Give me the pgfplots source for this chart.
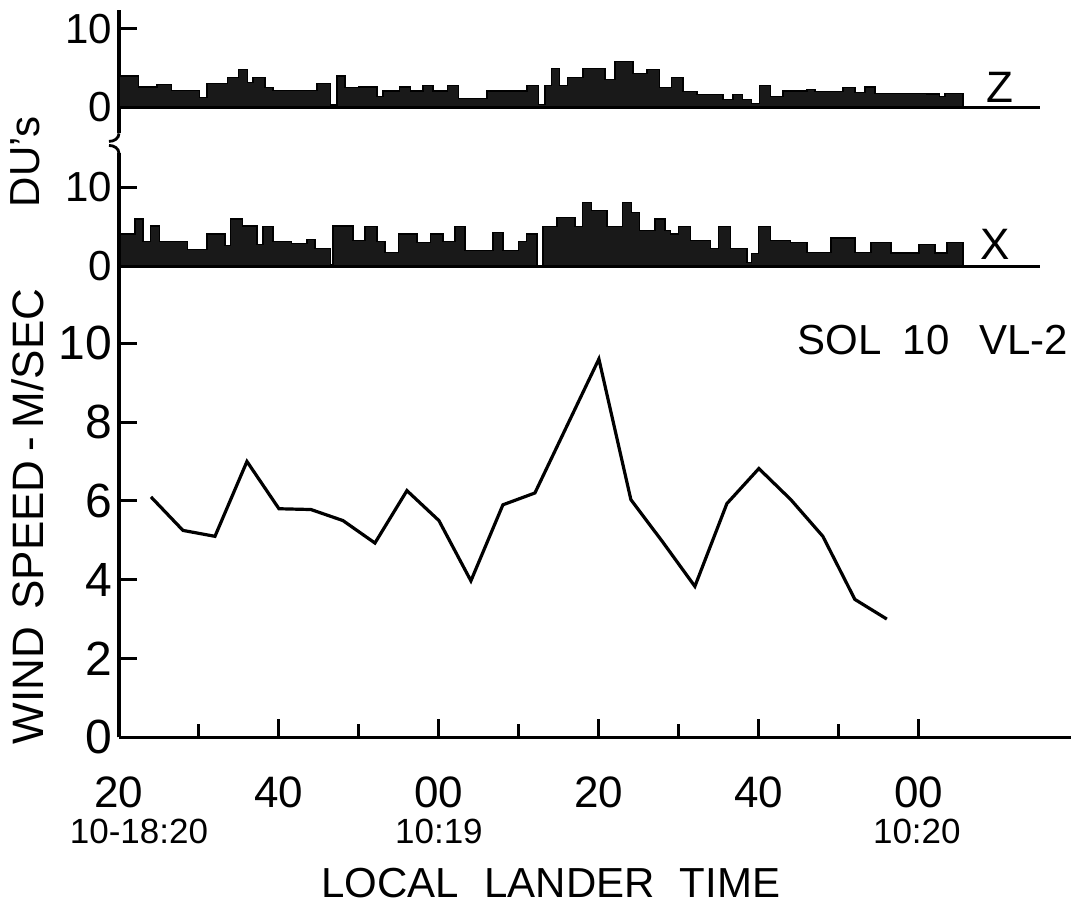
\documentclass[border=0pt]{standalone}
\usepackage{fontspec}
\setmainfont{Liberation Sans}
\usepackage{pgfplots}
\pgfplotsset{compat=1.18}

% 1 px of the reference = 0.5pt
\pgfplotsset{
  every axis/.append style={
    scale only axis, clip=false,
    axis line style={line width=1.6pt},
    every tick/.style={black, line width=1.5pt},
    tick align=inside,
    major tick length=9pt,
    minor tick length=6.5pt,
    /pgf/number format/assume math mode=true,
  },
  bars/.style={const plot, fill=black!90, draw=black, line width=0.6pt},
}

\begin{document}
\begin{tikzpicture}

% ---- wind speed panel
\begin{axis}[
  at={(0,0)}, anchor=south west,
  width=476pt, height=235.5pt,
  xmin=0, xmax=119, ymin=0, ymax=11.95,
  axis x line*=bottom, axis y line*=left,
  xtick={0,20,40,60,80,100}, xticklabels={20,40,00,20,40,00},
  minor xtick={10,30,50,70,90},
  ytick={0,2,4,6,8,10}, yticklabels={0,2,4,6,8,10},
  xticklabel style={font=\fontsize{22}{22}\selectfont, yshift=-16pt},
  yticklabel style={font=\fontsize{24}{24}\selectfont},
]
\addplot[black, line width=1.6pt] coordinates {
  (4,6.1)(8,5.25)(12,5.1)(16,7.0)(20,5.8)(24,5.78)(28,5.5)(32,4.93)
  (36,6.26)(40,5.5)(44,3.97)(48,5.9)(52,6.2)(60,9.6)(64,6.03)(68,4.95)
  (72,3.83)(76,5.93)(80,6.82)(84,6.03)(88,5.1)(92,3.5)(96,3.0)};

\node[anchor=east, font=\fontsize{21}{21}\selectfont] at (axis cs:119.5,10.08)
  {SOL\hspace{0.5em}10\hspace{0.7em}VL-2};
\node[font=\fontsize{22}{22}\selectfont] at (axis cs:110.1,16.5) {Z};
\node[font=\fontsize{22}{22}\selectfont] at (axis cs:109.5,12.5) {X};

\node[rotate=90, font=\fontsize{22}{22}\selectfont] at (axis cs:-11.4,5.6)
  {WIND\hspace{0.4em}SPEED\hspace{0.2em}-\hspace{0.2em}M/SEC};
\node[rotate=90, font=\fontsize{21}{21}\selectfont] at (axis cs:-11.75,14.6) {DU's};

\node[font=\fontsize{17.5}{17.5}\selectfont] at (axis cs:2.5,-2.4) {10-18:20};
\node[font=\fontsize{17.5}{17.5}\selectfont] at (axis cs:40,-2.4) {10:19};
\node[font=\fontsize{17.5}{17.5}\selectfont] at (axis cs:99.75,-2.4) {10:20};
\node[font=\fontsize{21}{21}\selectfont] at (axis cs:54,-3.7)
  {LOCAL\hspace{0.6em}LANDER\hspace{0.6em}TIME};

% page frame, same margins as the reference
\path (axis cs:-14.875,-4.37) rectangle (axis cs:120.9,18.71);
\end{axis}

% ---- X panel
\begin{axis}[
  at={(0,235.5pt)}, anchor=south west,
  width=460.5pt, height=56.5pt,
  xmin=0, xmax=115.1, ymin=0, ymax=14.3,
  axis x line*=bottom, axis y line*=left,
  xtick=\empty, ytick={0,10}, yticklabels={0,10},
  yticklabel style={font=\fontsize{21}{21}\selectfont},
  axis on top,
]
\addplot[bars] coordinates {
  (0,4.1)(2,6.0)(3,3.1)(3.9,5.1)(5.1,3.1)(8.6,2.1)(11,4.1)(13.25,2.6)
  (13.9,6.0)(15.4,5.1)(17.25,2.8)(18,5.0)(19.25,3.1)(21.6,2.9)(23.5,3.4)
  (24.5,2.3)(26.4,0.2)(26.75,5.1)(29.25,3.3)(30.75,5.0)(32.25,3.1)
  (33.25,1.8)(34.9,4.1)(37.25,3.0)(38.9,4.1)(40.5,3.1)(42,5.0)(43.25,2.0)
  (46.75,4.3)(48,2.0)(49.9,3.1)(50.9,4.1)(52.25,0)(53,5.0)(54.75,6.2)
  (57,5.0)(57.9,8.1)(59.1,7.1)(61,5.0)(62.9,8.1)(64.1,6.8)(65.1,4.5)
  (67,6.0)(68.25,4.5)(68.9,4.1)(69.9,5.0)(71.4,3.3)(73.9,2.3)(74.9,5.0)
  (76.4,2.3)(78.5,0.5)(79.1,1.6)(79.9,5.0)(81.4,3.3)(83.9,3.0)(86,1.8)
  (89,3.6)(92,1.8)(94,3.0)(96.5,1.7)(100,2.8)(102,1.7)(103.5,3.0)(105.5,0)} \closedcycle;
% axis break mark
\draw[line width=1.4pt] (rel axis cs:0,1) to[out=90,in=0] ++(-5pt,4pt);
\end{axis}

% ---- Z panel
\begin{axis}[
  at={(0,302pt)}, anchor=south west,
  width=460.5pt, height=61.5pt,
  xmin=0, xmax=115.1, ymin=-3.3, ymax=12.33,
  axis x line=none, axis y line*=left,
  ytick={0,10}, yticklabels={0,10},
  yticklabel style={font=\fontsize{21}{21}\selectfont},
]
\addplot[bars] coordinates {
  (0,4.0)(2.4,2.6)(4.75,2.9)(6.6,2.2)(10.1,1.3)(11,3.0)(13.6,3.8)(14.9,4.8)
  (16.1,3.2)(16.75,3.8)(18.25,2.5)(19.25,2.2)(24.75,3.0)(26.4,0.3)(27.25,4.0)
  (28.25,2.5)(29.9,2.6)(32.25,1.4)(33,2.1)(35.1,2.6)(36.4,2.1)(38,2.8)
  (39.25,2.1)(41.1,2.8)(42.4,1.1)(46,2.1)(51,2.8)(52.4,0.4)(53.25,2.8)
  (54.1,5.0)(55.1,2.8)(56.1,3.8)(58,4.9)(60.75,3.6)(62,5.8)(64.25,4.3)
  (66,4.8)(67.6,2.5)(69.1,3.8)(70.5,2.0)(72.25,1.6)(75.5,1.0)(76.75,1.6)
  (77.9,1.0)(79.1,0.5)(80.1,2.8)(81.4,1.4)(83,2.1)(86,2.3)(87,2.0)(90.5,2.5)
  (92,1.9)(93.25,2.6)(94.5,1.8)(101,1.7)(102.6,1.4)(103.25,1.8)(105.5,0)} \closedcycle;
\addplot[black, line width=1.6pt] coordinates {(0,0)(115.1,0)};
% axis break mark
\draw[line width=1.4pt] (rel axis cs:0,0) to[out=-90,in=0] ++(-5pt,-4pt);
\end{axis}

\end{tikzpicture}
\end{document}
